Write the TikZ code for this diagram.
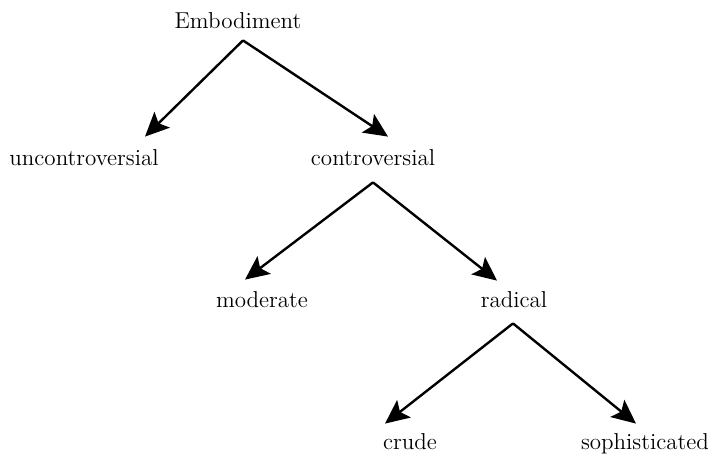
\documentclass[tikz,border=0pt]{standalone}
\usepackage{amsmath}
\usepackage{tikz}
\usetikzlibrary{arrows.meta}

\tikzset{
  lbl/.style={inner sep=0pt, anchor=base, text height=8pt, text depth=2.5pt, font=\fontsize{11.5}{13}\selectfont},
  branch/.style={-{Stealth[length=12pt, width=11pt, inset=2.5pt]}, line width=1.2pt}
}

\begin{document}
\begin{tikzpicture}[x=0.5pt, y=-0.5pt]
        \useasboundingbox (0,0) rectangle (708,461);

        % Define the labels for the first level
        \node[lbl] (emb) at (238,28) {Embodiment};
        \node[lbl] (unc) at (84,165) {uncontroversial};
        \node[lbl] (con) at (373,165) {controversial};

        % Define the labels for the second level
        \node[lbl] (mod) at (262,307) {moderate};
        \node[lbl] (rad) at (514,307) {radical};

        % Define the labels for the third level
        \node[lbl] (cru) at (410,449) {crude};
        \node[lbl] (sop) at (645,449) {sophisticated};

        % Define the branches
        \draw[branch] ([xshift=2.5pt, yshift=-3.5pt]emb.south) -- ([xshift=30.5pt, yshift=6pt]unc.north);
        \draw[branch] ([xshift=2.5pt, yshift=-3.5pt]emb.south) -- ([xshift=7.5pt, yshift=6pt]con.north);
        \draw[branch] ([yshift=-6pt]con.south) -- ([xshift=-8.5pt, yshift=5.5pt]mod.north);
        \draw[branch] ([yshift=-6pt]con.south) -- ([xshift=-8.5pt, yshift=5pt]rad.north);
        \draw[branch] ([xshift=-0.5pt, yshift=-5.5pt]rad.south) -- ([xshift=-12.5pt, yshift=4.5pt]cru.north);
        \draw[branch] ([xshift=-0.5pt, yshift=-5.5pt]rad.south) -- ([xshift=-4.5pt, yshift=4.5pt]sop.north);
    \end{tikzpicture}
\end{document}
